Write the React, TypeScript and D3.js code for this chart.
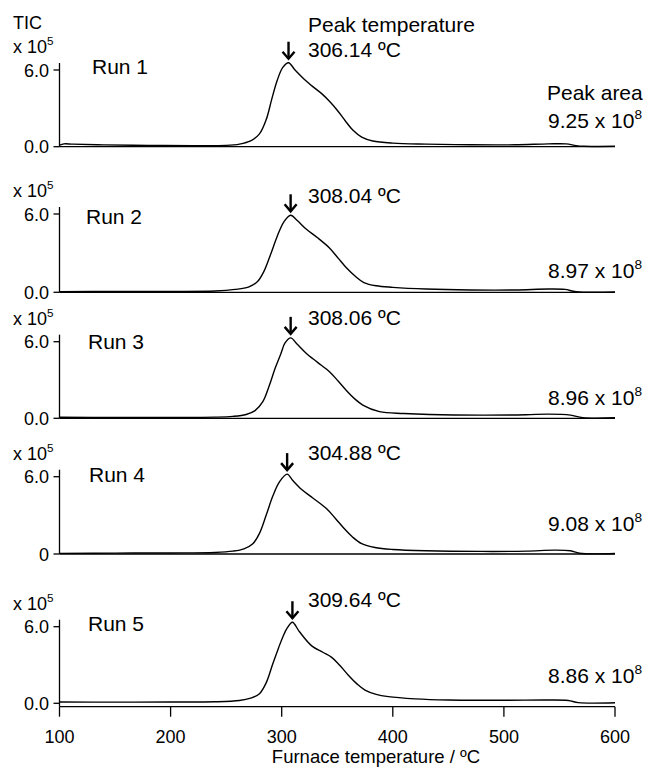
import * as d3 from "d3";

// TIC traces (x 10^5) vs furnace temperature (ºC), one list per run
const run1: [number, number][] = [
  [100, 0.12], [104, 0.22], [112, 0.2], [140, 0.14], [180, 0.1], [220, 0.08], [250, 0.1],
  [262, 0.2], [272, 0.45], [280, 1.0], [286, 2.1], [291, 3.7], [296, 5.2], [301, 6.2],
  [306.14, 6.57], [312, 6.0], [320, 5.3], [328, 4.7], [336, 4.15], [343, 3.55], [350, 2.85],
  [357, 2.05], [364, 1.3], [372, 0.75], [382, 0.45], [400, 0.28], [430, 0.2], [470, 0.15],
  [510, 0.15], [540, 0.22], [556, 0.22], [565, 0.08], [572, 0.03], [600, 0.03],
];
const run2: [number, number][] = [
  [100, 0.05], [150, 0.06], [200, 0.07], [240, 0.1], [258, 0.22], [270, 0.4], [278, 0.8],
  [284, 1.6], [290, 2.9], [296, 4.3], [302, 5.4], [308.04, 5.9], [314, 5.5], [322, 4.85],
  [332, 4.2], [343, 3.4], [351, 2.6], [358, 1.9], [366, 1.25], [374, 0.75], [385, 0.5],
  [400, 0.38], [430, 0.25], [470, 0.18], [510, 0.18], [540, 0.25], [555, 0.22], [565, 0.05],
  [600, 0.03],
];
const run3: [number, number][] = [
  [100, 0.08], [150, 0.07], [200, 0.07], [240, 0.09], [256, 0.15], [268, 0.3], [276, 0.6],
  [283, 1.3], [289, 2.6], [294, 3.9], [299, 5.0], [303, 5.9], [308.06, 6.3], [314, 5.8],
  [322, 5.1], [332, 4.4], [343, 3.65], [351, 2.9], [358, 2.2], [366, 1.5], [373, 1.04],
  [388, 0.52], [410, 0.38], [433, 0.3], [480, 0.25], [520, 0.28], [540, 0.33], [560, 0.25],
  [571, 0.05], [600, 0.04],
];
const run4: [number, number][] = [
  [100, 0.05], [150, 0.07], [200, 0.08], [240, 0.12], [256, 0.22], [266, 0.4], [274, 0.8],
  [280, 1.6], [286, 3.0], [292, 4.5], [298, 5.6], [304.88, 6.2], [310, 5.7], [318, 5.0],
  [328, 4.35], [340, 3.55], [348, 2.8], [356, 2.0], [364, 1.3], [372, 0.8], [384, 0.5],
  [400, 0.35], [430, 0.25], [480, 0.2], [520, 0.22], [545, 0.3], [560, 0.25], [568, 0.06],
  [600, 0.04],
];
const run5: [number, number][] = [
  [100, 0.1], [150, 0.09], [200, 0.1], [240, 0.12], [262, 0.22], [272, 0.4], [280, 0.75],
  [286, 1.6], [292, 3.1], [297, 4.3], [301, 5.2], [305, 5.9], [309.64, 6.35], [316, 5.6],
  [327, 4.5], [337, 4.0], [345, 3.6], [352, 3.0], [360, 2.2], [368, 1.5], [375, 1.04],
  [385, 0.7], [396, 0.52], [420, 0.35], [450, 0.26], [500, 0.24], [540, 0.26], [558, 0.22],
  [567, 0.05], [600, 0.04],
];

const runNames = ["Run 1", "Run 2", "Run 3", "Run 4", "Run 5"];
const peakTemps = ["306.14", "308.04", "308.06", "304.88", "309.64"];
const peakTempValues = [306.14, 308.04, 308.06, 304.88, 309.64];
const peakAreas = ["9.25", "8.97", "8.96", "9.08", "8.86"];
const zeroLabels = ["0.0", "0.0", "0.0", "0", "0.0"];
const yTicks = [0, 6];
const xTicks = [100, 200, 300, 400, 500, 600];

const runs = [run1, run2, run3, run4, run5];

// layout
const W = 646;
const H = 768;
const panelTop = [70, 214, 341.7, 476.7, 626.7]; // y of 6.0
const panelBase = [146.7, 292.3, 418.3, 554, 703.3]; // y of 0
const runLabelX = [92, 86, 88, 89, 88];
const runLabelDy = [4, 10, 7, 5, 4];
const tempLabelDy = [-13, -11.5, -16.5, -16.5, -20];
const areaLabelY = [128, 278, 405, 531, 683];
const font = "'Liberation Sans', Arial, Helvetica, sans-serif";
const annSize = 21;

const x = d3.scaleLinear().domain([100, 600]).range([59.5, 615]);

function Sup({ base, exp, size }: { base: string; exp: string; size: number }) {
  return (
    <>
      {base}
      <tspan fontSize={size * 0.65} dy={-size * 0.42}>
        {exp}
      </tspan>
    </>
  );
}

export default function App() {
  const axisY = panelBase[4] + 3.4;
  return (
    <svg
      width={W}
      height={H}
      style={{ position: "absolute", left: 0, top: 0, background: "#fff" }}
      fontFamily={font}
      fill="#000"
    >
      <text x={13} y={29} fontSize={18}>TIC</text>
      {runs.map((pts, i) => {
        const y = d3.scaleLinear().domain([0, 6]).range([panelBase[i], panelTop[i]]);
        const line = d3
          .line<[number, number]>()
          .x((d) => x(d[0]))
          .y((d) => y(d[1]))
          .curve(d3.curveCatmullRom.alpha(0.5));
        const peakVal = d3.max(pts, (d) => d[1]) as number;
        const px = x(peakTempValues[i]);
        const py = y(peakVal);
        const last = i === 4;
        return (
          <g key={i}>
            {/* y axis */}
            <line x1={x(100)} x2={x(100)} y1={panelTop[i] - 7} y2={last ? axisY : panelBase[i]} stroke="#000" strokeWidth={1.3} />
            {yTicks.map((t) => (
              <g key={t}>
                <line x1={x(100) - 6} x2={x(100)} y1={y(t)} y2={y(t)} stroke="#000" strokeWidth={1.3} />
                <text x={49} y={y(t) + 6.5} fontSize={18} textAnchor="end">
                  {t === 0 ? zeroLabels[i] : "6.0"}
                </text>
              </g>
            ))}
            <text x={13} y={panelTop[i] - 17} fontSize={18}>
              <Sup base="x 10" exp="5" size={18} />
            </text>
            {/* baseline */}
            {!last && (
              <line x1={x(100)} x2={x(600)} y1={panelBase[i]} y2={panelBase[i]} stroke="#000" strokeWidth={1.3} />
            )}
            <path d={line(pts) ?? ""} fill="none" stroke="#000" strokeWidth={1.4} />
            {/* peak arrow */}
            <g stroke="#000" strokeWidth={2.4} fill="none">
              <line x1={px} x2={px} y1={py - 21} y2={py - 4} />
              <polyline points={`${px - 6},${py - 11} ${px},${py - 4} ${px + 6},${py - 11}`} />
            </g>
            <text x={runLabelX[i]} y={panelTop[i] + runLabelDy[i]} fontSize={annSize}>
              {runNames[i]}
            </text>
            {i === 0 && (
              <text x={308} y={32} fontSize={annSize}>Peak temperature</text>
            )}
            <text x={308} y={panelTop[i] + tempLabelDy[i]} fontSize={annSize}>
              {peakTemps[i]} ºC
            </text>
            {i === 0 && (
              <text x={547} y={100} fontSize={annSize}>Peak area</text>
            )}
            <text x={548} y={areaLabelY[i]} fontSize={annSize}>
              <Sup base={`${peakAreas[i]} x 10`} exp="8" size={annSize} />
            </text>
          </g>
        );
      })}
      {/* x axis */}
      <line x1={x(100)} x2={x(600)} y1={axisY} y2={axisY} stroke="#000" strokeWidth={1.3} />
      {xTicks.map((t) => (
        <g key={t}>
          <line x1={x(t)} x2={x(t)} y1={axisY} y2={axisY + 10} stroke="#000" strokeWidth={1.3} />
          <text x={x(t)} y={743} fontSize={18} textAnchor="middle">{t}</text>
        </g>
      ))}
      <text x={376} y={763} fontSize={18.5} textAnchor="middle">
        Furnace temperature / ºC
      </text>
    </svg>
  );
}
